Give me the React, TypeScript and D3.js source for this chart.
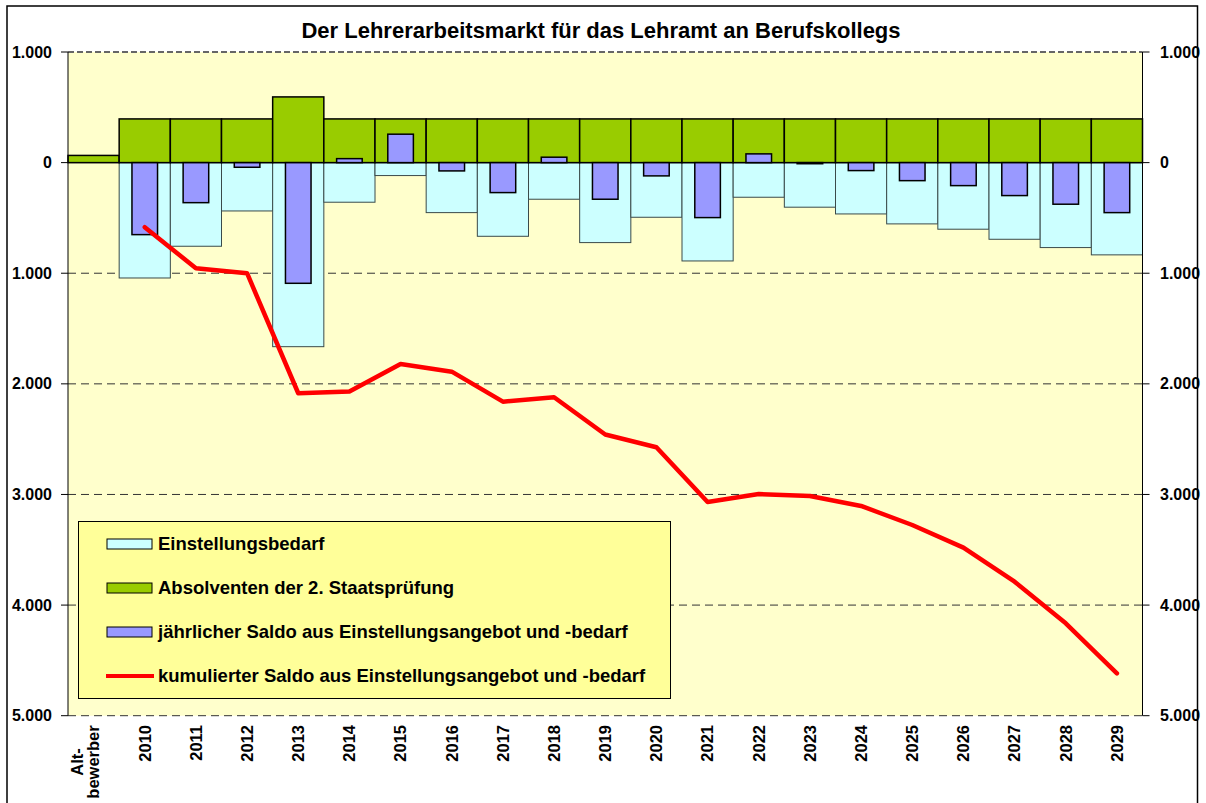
import React from 'react';
import * as d3 from 'd3';

// chart data
const categories = ['Alt-bewerber', '2010', '2011', '2012', '2013', '2014', '2015', '2016', '2017', '2018', '2019',
  '2020', '2021', '2022', '2023', '2024', '2025', '2026', '2027', '2028', '2029'];

// Einstellungsbedarf (drawn downward)
const bedarf = [0, 1043, 756, 437, 1664, 358, 117, 452, 666, 331, 723,
  494, 889, 313, 403, 464, 554, 602, 693, 768, 834];

// Absolventen der 2. Staatsprüfung (drawn upward)
const absolventen = [65, 395, 395, 395, 594, 395, 395, 395, 395, 395, 395,
  395, 395, 395, 395, 395, 395, 395, 395, 395, 395];

// jährlicher Saldo
const saldo = [null, -651, -362, -42, -1091, 36, 257, -75, -271, 49, -331,
  -120, -497, 79, -10, -72, -163, -208, -298, -376, -452];

// kumulierter Saldo
const kumuliert = [null, -584, -955, -1000, -2085, -2070, -1820, -1890, -2161, -2121, -2458,
  -2573, -3068, -2996, -3014, -3104, -3276, -3481, -3788, -4165, -4617];

const yTicks = [1000, 0, -1000, -2000, -3000, -4000, -5000];

const legendItems = [
  { label: 'Einstellungsbedarf', kind: 'rect', fill: '#CCFFFF' },
  { label: 'Absolventen der 2. Staatsprüfung', kind: 'rect', fill: '#99CC00' },
  { label: 'jährlicher Saldo aus Einstellungsangebot und -bedarf', kind: 'rect', fill: '#9999FF' },
  { label: 'kumulierter Saldo aus Einstellungsangebot und -bedarf', kind: 'line', fill: '#FF0000' },
];

const W = 1206;
const H = 803;
const plot = { left: 68, right: 1142.5, top: 52, bottom: 715.7 };
const font = '"Liberation Sans", Arial, sans-serif';

const fmt = (v: number) => d3.format(',')(Math.abs(v)).replace(/,/g, '.');

export default function App() {
  const x = d3.scaleBand<string>()
    .domain(categories)
    .range([plot.left, plot.right])
    .padding(0);

  const y = d3.scaleLinear()
    .domain([1000, -5000])
    .range([plot.top, plot.bottom]);

  const bw = x.bandwidth();
  const y0 = y(0);

  const line = d3.line<[string, number | null]>()
    .defined(d => d[1] !== null)
    .x(d => (x(d[0]) || 0) + bw / 2)
    .y(d => y(d[1] as number));

  const linePts = categories.map((c, i) => [c, kumuliert[i]] as [string, number | null]);

  return (
    <svg width={W} height={H} style={{ position: 'absolute', left: 0, top: 0, background: '#fff' }}
      fontFamily={font}>
      {/* outer frame */}
      <rect x={7} y={6} width={1190.5} height={H + 10} fill="none" stroke="#000" strokeWidth={1.5} />

      <text x={601} y={38} textAnchor="middle" fontSize={22} fontWeight="bold">
        Der Lehrerarbeitsmarkt für das Lehramt an Berufskollegs
      </text>

      {/* plot area */}
      <rect x={plot.left} y={plot.top} width={plot.right - plot.left} height={plot.bottom - plot.top} fill="#FFFFCC" />

      {/* grid lines */}
      {yTicks.filter(t => t !== 0).map(t => (
        <line key={t} x1={plot.left} x2={plot.right} y1={y(t)} y2={y(t)}
          stroke={t === 1000 ? '#666' : '#333'} strokeWidth={t === 1000 ? 2 : 1}
          strokeDasharray={t === 1000 ? '6,3' : '8,5'} />
      ))}

      {/* Einstellungsbedarf */}
      {bedarf.map((v, i) => v > 0 && (
        <rect key={'b' + i} x={x(categories[i])} y={y0} width={bw} height={y(-v) - y0}
          fill="#CCFFFF" stroke="#3a4a4a" strokeWidth={1} />
      ))}

      {/* Absolventen */}
      {absolventen.map((v, i) => (
        <rect key={'a' + i} x={x(categories[i])} y={y(v)} width={bw} height={y0 - y(v)}
          fill="#99CC00" stroke="#000" strokeWidth={1.5} />
      ))}

      {/* jährlicher Saldo */}
      {saldo.map((v, i) => v !== null && (
        <rect key={'s' + i} x={(x(categories[i]) || 0) + bw / 4} y={y(Math.max(v, 0))}
          width={bw / 2} height={Math.abs(y(v) - y0)}
          fill="#9999FF" stroke="#000" strokeWidth={1.5} />
      ))}

      {/* zero line */}
      <line x1={plot.left} x2={plot.right} y1={y0} y2={y0} stroke="#000" strokeWidth={1} />

      {/* kumulierter Saldo */}
      <path d={line(linePts) || ''} fill="none" stroke="#FF0000" strokeWidth={4.5}
        strokeLinejoin="round" strokeLinecap="round" />

      {/* axes */}
      <line x1={plot.left} x2={plot.left} y1={plot.top} y2={plot.bottom} stroke="#000" strokeWidth={1} />
      <line x1={plot.right} x2={plot.right} y1={plot.top} y2={plot.bottom} stroke="#000" strokeWidth={1} />
      {yTicks.map(t => (
        <g key={'t' + t}>
          <line x1={plot.left - 7} x2={plot.left} y1={y(t)} y2={y(t)} stroke="#000" />
          <line x1={plot.right} x2={plot.right + 7} y1={y(t)} y2={y(t)} stroke="#000" />
          <text x={52} y={y(t)} dy="0.35em" textAnchor="end" fontSize={16} fontWeight="bold">{fmt(t)}</text>
          <text x={1160} y={y(t)} dy="0.35em" textAnchor="start" fontSize={16} fontWeight="bold">{fmt(t)}</text>
        </g>
      ))}

      {/* category labels */}
      {categories.map((c, i) => {
        const cx = (x(c) || 0) + bw / 2;
        if (i === 0) {
          return (
            <g key={c} fontSize={16.5} fontWeight="bold">
              <text transform={`translate(${cx - 16},762) rotate(-90)`} textAnchor="middle" dy="0.35em">Alt-</text>
              <text transform={`translate(${cx},762) rotate(-90)`} textAnchor="middle" dy="0.35em">bewerber</text>
            </g>
          );
        }
        return (
          <text key={c} transform={`translate(${cx},725) rotate(-90)`} textAnchor="end" dy="0.35em"
            fontSize={16.5} fontWeight="bold">{c}</text>
        );
      })}

      {/* legend */}
      <rect x={78.5} y={521.5} width={592} height={177} fill="#FFFF99" stroke="#000" strokeWidth={1} />
      {legendItems.map((it, i) => {
        const cy = 544 + i * 44;
        return (
          <g key={it.label}>
            {it.kind === 'rect'
              ? <rect x={107} y={cy - 5} width={45} height={10} fill={it.fill} stroke="#000" strokeWidth={1} />
              : <line x1={106} x2={154} y1={cy} y2={cy} stroke={it.fill} strokeWidth={4} />}
            <text x={158} y={cy} dy="0.35em" fontSize={18.5} fontWeight="bold">{it.label}</text>
          </g>
        );
      })}
    </svg>
  );
}
